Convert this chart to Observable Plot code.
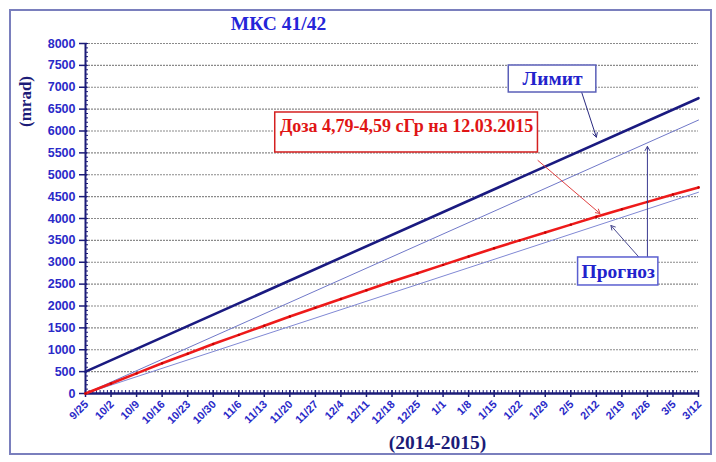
<!DOCTYPE html>
<html><head><meta charset="utf-8">
<script src="https://cdn.jsdelivr.net/npm/d3@7"></script>
<script src="https://cdn.jsdelivr.net/npm/@observablehq/plot@0.6"></script>
<style>
body{margin:0;background:#fff;}
#wrap{position:relative;width:716px;height:462px;overflow:hidden;}
#border{position:absolute;left:9px;top:9px;width:703px;height:446px;border:2px solid #7a7fbd;box-sizing:border-box;pointer-events:none;}
#chart{position:absolute;left:0;top:0;}
</style></head><body>
<div id="wrap"><div id="chart"></div><div id="border"></div></div>
<script>
// ---- data ----
const startDate = "2014-09-25";
const endDate = "2015-03-12";
// weekly tick labels (x axis)
const tickLabels = ["9/25","10/2","10/9","10/16","10/23","10/30","11/6","11/13","11/20","11/27","12/4","12/11","12/18","12/25","1/1","1/8","1/15","1/22","1/29","2/5","2/12","2/19","2/26","3/5","3/12"];
// y tick labels
const yTickValues = [0,500,1000,1500,2000,2500,3000,3500,4000,4500,5000,5500,6000,6500,7000,7500,8000];
// measured dose (red), one value per week (mrad)
const measuredDays =   [0, 7, 14, 21, 28, 35, 42, 49, 56, 63, 70, 77, 84, 91, 98, 105, 112, 119, 126, 133, 140, 147, 154, 161, 168];
const measuredValues = [0,230,460,690,910,1130,1340,1550,1760,1960,2160,2360,2560,2750,2940,3130,3320,3500,3680,3860,4040,4210,4380,4550,4710];
// limit line (mrad) at start / end
const limitDays = [0, 168];
const limitValues = [500, 6750];
// forecast lines (mrad) at start / end
const forecastHighValues = [0, 6250];
const forecastLowValues = [0, 4600];

// ---- build ----
const t0 = new Date(startDate + "T00:00:00Z");
const t1 = new Date(endDate + "T00:00:00Z");
const day = n => d3.utcDay.offset(t0, n);
const tickDates = tickLabels.map((_, i) => day(i * 7));
const dailyDates = d3.utcDay.range(t0, d3.utcDay.offset(t1, 1));
const measured = measuredDays.map((d, i) => ({date: day(d), v: measuredValues[i]}));
const limit = limitDays.map((d, i) => ({date: day(d), v: limitValues[i]}));
const fHigh = limitDays.map((d, i) => ({date: day(d), v: forecastHighValues[i]}));
const fLow = limitDays.map((d, i) => ({date: day(d), v: forecastLowValues[i]}));
const xTicks = tickDates.map((d, i) => ({date: d, label: tickLabels[i]}));

// annotations (data coordinates)
const boxes = [
  {x1: day(52.2), x2: day(124.9), y1: 5509, y2: 6423, stroke: "#d42020", text: "Доза 4,79-4,59 сГр на 12.03.2015", tx: day(88.7), ty: 6110, fill: "#e01515", size: 18},
  {x1: day(116.1), x2: day(140.5), y1: 6880, y2: 7497, stroke: "#5a5fb8", text: "Лимит", tx: day(128.3), ty: 7190, fill: "#2222cc", size: 19.5},
  {x1: day(135.1), x2: day(157.0), y1: 2469, y2: 3109, stroke: "#5a5fd0", text: "Прогноз", tx: day(146.0), ty: 2790, fill: "#2222cc", size: 19.5}
];
const arrows = [
  {x1: day(124.9), y1: 5326, x2: day(141.4), y2: 4114, c: "#e04040"},
  {x1: day(136.7), y1: 6880, x2: day(140.3), y2: 5860, c: "#2a2a80"},
  {x1: day(154.5), y1: 3109, x2: day(154.5), y2: 5646, c: "#3a3a90"},
  {x1: day(152.4), y1: 3086, x2: day(144.1), y2: 3840, c: "#4a4a90"}
];

const navy = "#1c1c78";
const blue = "#2a2ac8";
const serif = "Liberation Serif";
const sans = "Liberation Sans";
const W = 716, H = 462, ML = 85, MR = 18, MT = 43, MB = 69;
const FW = W - ML - MR, FH = H - MT - MB;

const chart = Plot.plot({
  width: W, height: H,
  marginLeft: ML, marginRight: MR, marginTop: MT, marginBottom: MB,
  style: {background: "transparent"},
  x: {type: "utc", domain: [t0, t1], axis: null},
  y: {domain: [0, 8000], axis: null},
  marks: [
    // grid
    Plot.ruleY(yTickValues.slice(1), {stroke: "#8a8a8a", strokeWidth: 1.2, strokeDasharray: "2,1"}),
    // y axis ticks
    Plot.ruleY(d3.range(0, 8001, 100), {stroke: navy, strokeWidth: 1, insetLeft: 0, insetRight: FW - 3}),
    Plot.ruleY(yTickValues, {stroke: navy, strokeWidth: 1.5, insetLeft: -6, insetRight: FW - 2}),
    Plot.text(yTickValues, {x: t0, y: d => d, dx: -10, textAnchor: "end", text: d => String(d), fill: blue, fontWeight: "bold", fontSize: 12.5, fontFamily: sans}),
    // x axis ticks
    Plot.ruleX(dailyDates, {stroke: navy, strokeWidth: 1, insetTop: FH - 3, insetBottom: 0}),
    Plot.ruleX(tickDates, {stroke: navy, strokeWidth: 1.5, insetTop: FH - 3, insetBottom: -4}),
    Plot.text(xTicks, {x: "date", y: 0, text: "label", rotate: -45, textAnchor: "end", dx: 1, dy: 9, fill: blue, fontWeight: "bold", fontSize: 11, fontFamily: sans}),
    // axis lines
    Plot.ruleX([t0], {stroke: navy, strokeWidth: 2}),
    Plot.ruleY([0], {stroke: navy, strokeWidth: 2.5}),
    // series
    Plot.line(fLow, {x: "date", y: "v", stroke: "#8088d4", strokeWidth: 1}),
    Plot.line(fHigh, {x: "date", y: "v", stroke: "#7078c8", strokeWidth: 1}),
    Plot.line(measured, {x: "date", y: "v", stroke: "#ee1a1a", strokeWidth: 2.6}),
    Plot.dot(measured, {x: "date", y: "v", r: 1.2, fill: "#c00000"}),
    Plot.line(limit, {x: "date", y: "v", stroke: "#1a1a80", strokeWidth: 2.6}),
    // annotations
    Plot.arrow(arrows, {x1: "x1", y1: "y1", x2: "x2", y2: "y2", stroke: d => d.c, strokeWidth: 1, headLength: 7, bend: 0}),
    Plot.rect(boxes, {x1: "x1", x2: "x2", y1: "y1", y2: "y2", fill: "white", stroke: d => d.stroke, strokeWidth: 1.5}),
    Plot.text(boxes, {x: "tx", y: "ty", text: "text", fill: d => d.fill, fontSize: d => d.size, fontWeight: "bold", fontFamily: serif}),
    // titles
    Plot.text(["МКС 41/42"], {frameAnchor: "top-left", textAnchor: "middle", lineAnchor: "middle", dx: 193, dy: -20, fill: "#2525d8", fontSize: 19.5, fontWeight: "bold", fontFamily: serif}),
    Plot.text(["(mrad)"], {frameAnchor: "top-left", textAnchor: "middle", lineAnchor: "middle", dx: -60, dy: 58, rotate: -90, fill: navy, fontSize: 17, fontWeight: "bold", fontFamily: serif}),
    Plot.text(["(2014-2015)"], {frameAnchor: "bottom-left", textAnchor: "middle", lineAnchor: "middle", dx: 352, dy: 49, fill: navy, fontSize: 19.5, fontWeight: "bold", fontFamily: serif})
  ]
});
document.getElementById("chart").appendChild(chart);
</script>
</body></html>
